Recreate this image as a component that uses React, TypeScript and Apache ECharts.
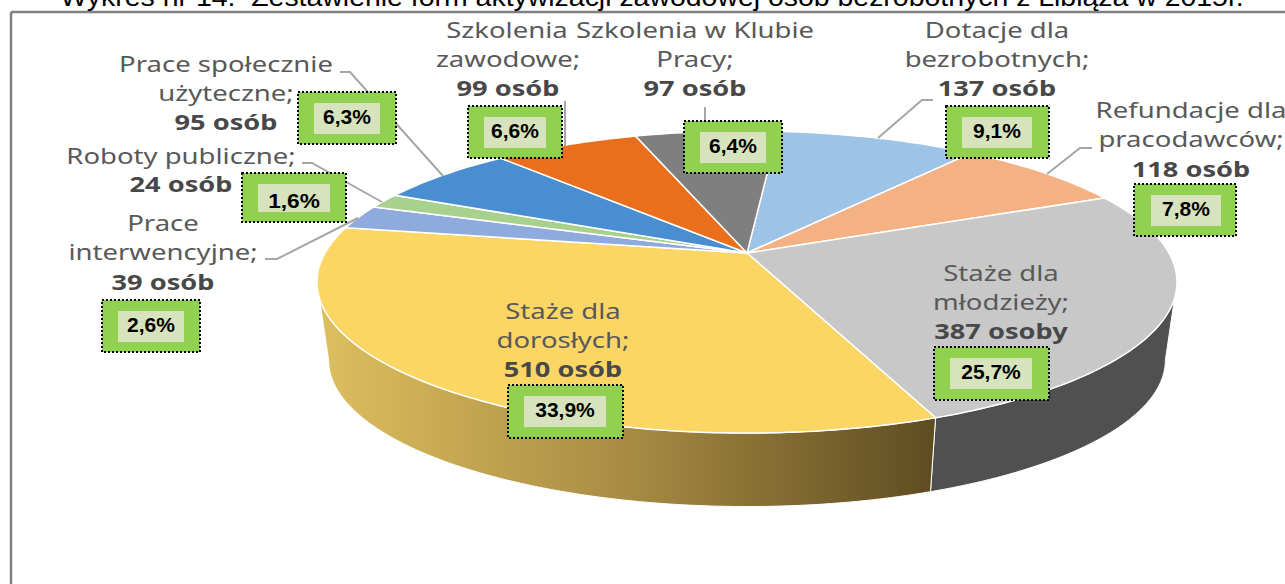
import React, { useEffect, useRef } from "react";
import * as echarts from "echarts";

const categories = [
  "Dotacje dla bezrobotnych",
  "Refundacje dla pracodawców",
  "Staże dla młodzieży",
  "Staże dla dorosłych",
  "Prace interwencyjne",
  "Roboty publiczne",
  "Prace społecznie użyteczne",
  "Szkolenia zawodowe",
  "Szkolenia w Klubie Pracy",
];
const persons = [137, 118, 387, 510, 39, 24, 95, 99, 97];
const percentLabels = ["9,1%", "7,8%", "25,7%", "33,9%", "2,6%", "1,6%", "6,3%", "6,6%", "6,4%"];
const topColors = ["#9DC3E6", "#F4B183", "#C8C8C8", "#FBD665", "#8FAADC", "#A9D18E", "#4A8ED2", "#E96F1D", "#7F7F7F"];
const titleText = "Wykres nr 14.  Zestawienie form aktywizacji zawodowej osób bezrobotnych z Libiąża w 2015r.";

// Layout of labels (not data)
const labelLines: [string, number, number, boolean][] = [
  ["Prace społecznie", 226, 64, false], ["użyteczne;", 226, 93, false], ["95 osób", 226, 122, true],
  ["Roboty publiczne;", 181, 156, false], ["24 osób", 181, 184, true],
  ["Prace", 163, 223, false], ["interwencyjne;", 163, 252, false], ["39 osób", 163, 282, true],
  ["Szkolenia", 507, 30, false], ["zawodowe;", 508, 59, false], ["99 osób", 508, 88, true],
  ["Szkolenia w Klubie", 695, 30, false], ["Pracy;", 695, 59, false], ["97 osób", 695, 88, true],
  ["Dotacje dla", 997, 30, false], ["bezrobotnych;", 997, 59, false], ["137 osób", 997, 88, true],
  ["Refundacje dla", 1191, 110, false], ["pracodawców;", 1191, 139, false], ["118 osób", 1191, 169, true],
  ["Staże dla", 1001, 273, false], ["młodzieży;", 1001, 302, false], ["387 osoby", 1001, 331, true],
  ["Staże dla", 563, 311, false], ["dorosłych;", 563, 340, false], ["510 osób", 563, 369, true],
];
// outer box x0,y0,x1,y1 and inner box x0,y0,x1,y1, in the order of categories
const boxLayout = [
  [946, 106, 1049, 158, 962, 117, 1032, 148],
  [1134, 184, 1236, 236, 1151, 195, 1221, 226],
  [934, 347, 1049, 400, 950, 358, 1032, 389],
  [508, 385, 623, 438, 524, 396, 606, 427],
  [102, 300, 200, 352, 118, 311, 184, 342],
  [242, 173, 346, 222, 258, 184, 330, 212],
  [298, 92, 396, 144, 314, 103, 380, 134],
  [468, 106, 562, 158, 484, 117, 546, 148],
  [684, 121, 782, 173, 700, 132, 766, 163],
];
const leaders = [
  [[933, 100], [922, 100], [878, 138]],
  [[1092, 148], [1080, 148], [1047, 174]],
  [],
  [],
  [[265, 259], [277, 259], [358, 218]],
  [[302, 163], [312, 163], [382, 202]],
  [[340, 72], [350, 72], [443, 176]],
  [[565, 101], [565, 146]],
  [[705, 107], [705, 140]],
];

const START = 5;
const APEX_X = 747, APEX_Y = 253;
const A = 422, B = 0.192, C = 145.5;
const SIL_TOP: [number, number] = [107, 253];
const SIL_BOTTOM: [number, number] = [101.1, 258.9];

function topPoint(deg: number): [number, number] {
  const t = (deg * Math.PI) / 180;
  const u = Math.sin(t), v = -Math.cos(t);
  const w = 1 - B * v;
  return [APEX_X + (A * u) / w, APEX_Y + (C * v) / w];
}
function bottomPoint(deg: number): [number, number] {
  const [x, y] = topPoint(deg);
  return [747 + (x - 747) * 0.973, 360 + (y - 282) * 0.97];
}
function arc(fn: (d: number) => [number, number], a: number, b: number) {
  const n = Math.max(2, Math.ceil(Math.abs(b - a)));
  const pts: [number, number][] = [];
  for (let i = 0; i <= n; i++) pts.push(fn(a + ((b - a) * i) / n));
  return pts;
}

const total = persons.reduce((s, v) => s + v, 0);
let acc = START;
const sliceData = persons.map((v, i) => {
  const s = acc;
  acc += (v / total) * 360;
  return [s, acc, i];
});

const sideFill = (i: number) =>
  i === 2
    ? "#505050"
    : new echarts.graphic.LinearGradient(320, 0, 930, 0, [
        { offset: 0, color: "#DDBE5F" },
        { offset: 0.5, color: "#A88C43" },
        { offset: 1, color: "#5F4D22" },
      ], true);

export default function App() {
  const ref = useRef<HTMLDivElement>(null);
  useEffect(() => {
    document.body.style.margin = "0";
    const chart = echarts.init(ref.current!, undefined, { renderer: "svg" });
    const graphics: any[] = [];
    graphics.push({ type: "line", z: 1, shape: { x1: 11, y1: 12, x2: 1285, y2: 12 }, style: { stroke: "#808080", lineWidth: 2.5 } });
    graphics.push({ type: "line", z: 1, shape: { x1: 11, y1: 12, x2: 11, y2: 584 }, style: { stroke: "#808080", lineWidth: 2.5 } });
    graphics.push({
      type: "text", z: 1, x: 652, y: -2, scaleX: 1.138,
      style: { text: titleText, fill: "#000", font: "25px 'Liberation Sans'", textAlign: "center", textVerticalAlign: "middle" },
    });
    leaders.forEach((pts) => {
      if (pts.length)
        graphics.push({ type: "polyline", z: 20, shape: { points: pts }, style: { stroke: "#A6A6A6", lineWidth: 2, fill: "none" } });
    });
    labelLines.forEach(([text, x, y, bold]) => {
      graphics.push({
        type: "text", z: 30, x, y, scaleX: bold ? 1.295 : 1.31,
        style: {
          text, fill: bold ? "#484848" : "#595959",
          font: `${bold ? "bold " : ""}21px 'Noto Sans'`,
          textAlign: "center", textVerticalAlign: "middle",
        },
      });
    });
    boxLayout.forEach((b, i) => {
      graphics.push({
        type: "rect", z: 40,
        shape: { x: b[0], y: b[1], width: b[2] - b[0], height: b[3] - b[1] },
        style: { fill: "#92D050", stroke: "#000", lineWidth: 2, lineDash: [2, 2] },
      });
      graphics.push({
        type: "rect", z: 41,
        shape: { x: b[4], y: b[5], width: b[6] - b[4], height: b[7] - b[5] },
        style: { fill: "#D6E3BC" },
      });
      graphics.push({
        type: "text", z: 42, x: (b[4] + b[6]) / 2, y: (b[5] + b[7]) / 2 + (i === 5 ? 3 : -2.5),
        scaleX: i === 5 ? 1.08 : 1,
        style: {
          text: percentLabels[i], fill: "#000",
          font: "bold 21px 'Liberation Sans'",
          textAlign: "center", textVerticalAlign: "middle",
        },
      });
    });

    chart.setOption({
      animation: false,
      backgroundColor: "#fff",
      tooltip: { show: false },
      graphic: { elements: graphics },
      series: [
        {
          type: "custom", name: "boki", coordinateSystem: "none", silent: true, z: 2,
          data: sliceData,
          renderItem: (_: any, api: any) => {
            const s = api.value(0), e = api.value(1), i = api.value(2);
            const a = Math.max(s, SIL_TOP[0]), b = Math.min(e, SIL_TOP[1]);
            if (a >= b) return { type: "group", children: [] };
            const a2 = Math.max(s, SIL_BOTTOM[0]), b2 = Math.min(e, SIL_BOTTOM[1]);
            const pts = [...arc(topPoint, a, b), ...arc(bottomPoint, b2, a2)];
            return {
              type: "polygon",
              shape: { points: pts },
              style: { fill: sideFill(i), stroke: "#fff", lineWidth: 1 },
            };
          },
        },
        {
          type: "custom", name: "aktywizacja", coordinateSystem: "none", silent: true, z: 3,
          data: sliceData,
          renderItem: (_: any, api: any) => {
            const s = api.value(0), e = api.value(1), i = api.value(2);
            const pts = [[APEX_X, APEX_Y], ...arc(topPoint, s, e)];
            return {
              type: "polygon",
              shape: { points: pts },
              style: { fill: topColors[i], stroke: "#fff", lineWidth: 1.5 },
            };
          },
        },
      ],
    });
    return () => chart.dispose();
  }, []);
  return <div ref={ref} role="img" aria-label={categories.join(", ")} style={{ width: 1285, height: 584 }} />;
}
